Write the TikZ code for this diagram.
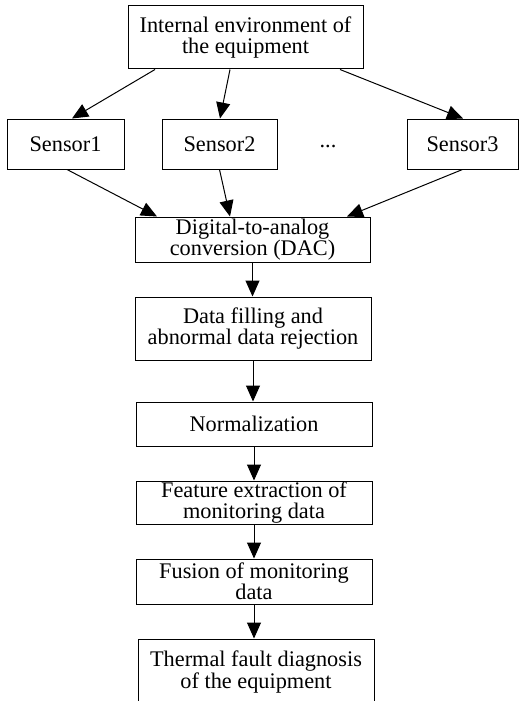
\documentclass[tikz,border=0pt]{standalone}
\usepackage{fontspec}
\setmainfont{Liberation Serif}
\usetikzlibrary{arrows.meta}
\begin{document}
\begin{tikzpicture}[x=1pt,y=-1pt,
  box/.style={draw=black,line width=1pt,rectangle,inner sep=0pt,align=center,
    font=\fontsize{22.3pt}{21.5pt}\selectfont},
  conn/.style={draw=black,line width=1pt,-{Triangle[length=16pt,width=14pt]}}]
\useasboundingbox (0,0) rectangle (519,701);
\node[box,minimum width=235pt,minimum height=63pt] (top) at (245.5,37.5) {Internal environment of\\the equipment};
\node[box,minimum width=117pt,minimum height=50pt] (s1) at (65.5,144) {Sensor1};
\node[box,minimum width=115pt,minimum height=50pt] (s2) at (219.5,144) {Sensor2};
\node[inner sep=0pt,anchor=base,font=\fontsize{22.3pt}{21.5pt}\selectfont] (dots) at (328,147) {...};
\node[box,minimum width=111pt,minimum height=50pt] (s3) at (462.5,144) {Sensor3};
\node[box,minimum width=235pt,minimum height=45pt] (dac) at (252.5,239.5) {Digital-to-analog\\conversion (DAC)};
\node[box,minimum width=236pt,minimum height=63pt] (fill) at (253,328.5) {Data filling and\\abnormal data rejection};
\node[box,minimum width=236pt,minimum height=44pt] (norm) at (254,424) {Normalization};
\node[box,minimum width=236pt,minimum height=43pt] (feat) at (254,502.5) {Feature extraction of\\monitoring data};
\node[box,minimum width=236pt,minimum height=45pt] (fus) at (254,581.5) {Fusion of monitoring\\data};
\node[box,minimum width=236pt,minimum height=66pt] (diag) at (256,672) {Thermal fault diagnosis\\of the equipment};
\draw[conn] ([xshift=-90.5pt]top.south) -- ([xshift=6.5pt]s1.north);
\draw[conn] ([xshift=-15.5pt]top.south) -- ([xshift=0.5pt]s2.north);
\draw[conn] ([xshift=94.5pt]top.south) -- ([xshift=0.5pt]s3.north);
\draw[conn] ([xshift=1.5pt]s1.south) -- ([xshift=-95.5pt]dac.north);
\draw[conn] (s2.south) -- ([xshift=-22.5pt]dac.north);
\draw[conn] (s3.south) -- ([xshift=94.5pt]dac.north);
\draw[conn] (dac.south) -- (fill.north -| dac.south);
\draw[conn] (fill.south) -- (norm.north -| fill.south);
\draw[conn] (norm.south) -- (feat.north);
\draw[conn] (feat.south) -- (fus.north);
\draw[conn] (fus.south) -- (diag.north -| fus.south);
\end{tikzpicture}
\end{document}
